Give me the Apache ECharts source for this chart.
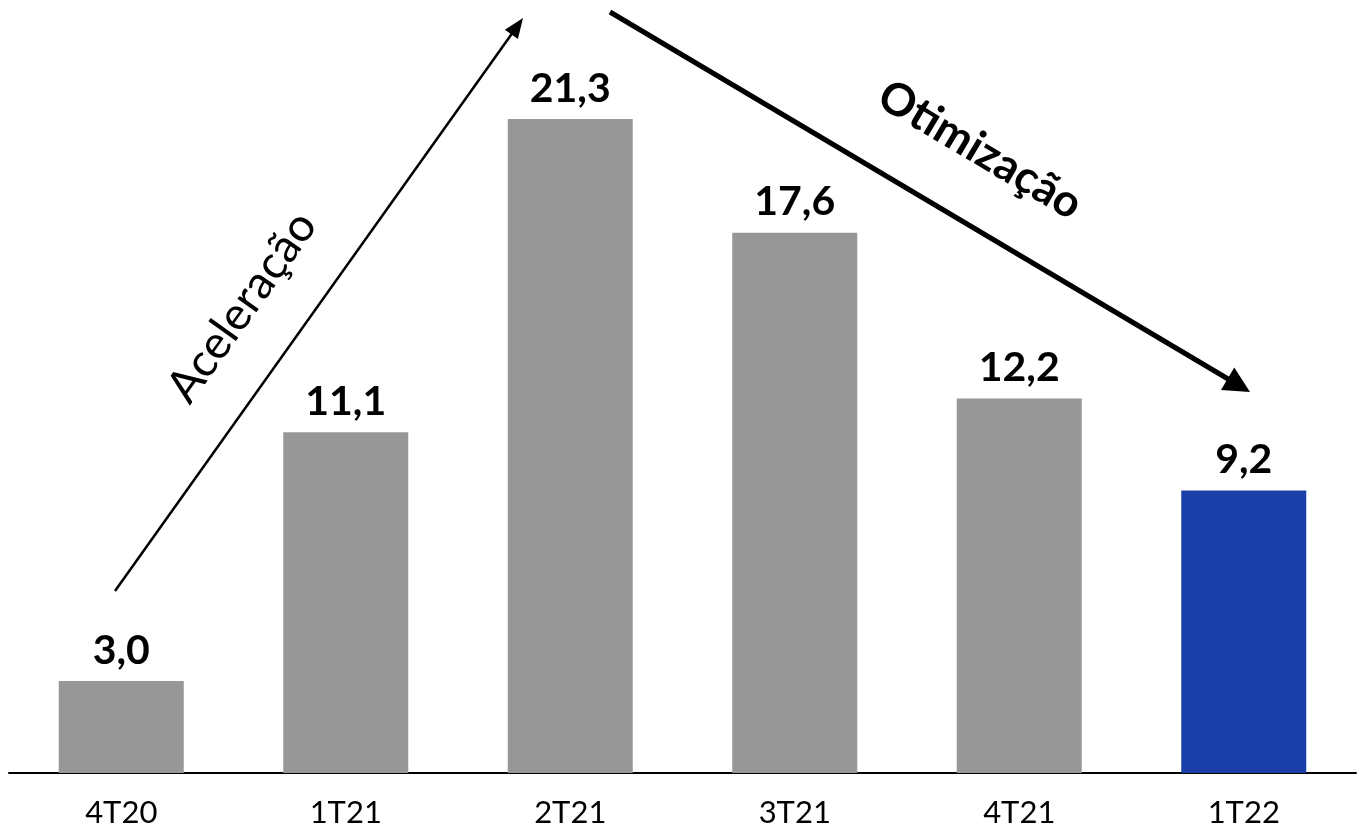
<!DOCTYPE html>
<html>
<head>
<meta charset="utf-8">
<script src="https://cdn.jsdelivr.net/npm/echarts@6/dist/echarts.min.js"></script>
<style>html,body{margin:0;padding:0;background:#fff}#c{width:1358px;height:825px}</style>
</head>
<body>
<div id="c"></div>
<script>
const categories = ['4T20', '1T21', '2T21', '3T21', '4T21', '1T22'];
const values = [3.0, 11.1, 21.3, 17.6, 12.2, 9.2];
const barColors = ['#979797', '#979797', '#979797', '#979797', '#979797', '#1B3FA8'];

function arrow(x1, y1, x2, y2, w, hl, hw) {
  const dx = x2 - x1, dy = y2 - y1, L = Math.hypot(dx, dy);
  const ux = dx / L, uy = dy / L, px = -uy, py = ux;
  const bx = x2 - ux * hl, by = y2 - uy * hl;
  return [
    { type: 'line', shape: { x1: x1, y1: y1, x2: bx + ux * 2, y2: by + uy * 2 }, style: { stroke: '#000', lineWidth: w } },
    { type: 'polygon', shape: { points: [[x2, y2], [bx + px * hw, by + py * hw], [bx - px * hw, by - py * hw]] }, style: { fill: '#000' } }
  ];
}

const chart = echarts.init(document.getElementById('c'));
chart.setOption({
  animation: false,
  grid: { left: 9, right: 2, top: 5.5, bottom: 52, containLabel: false, outerBoundsMode: 'none' },
  xAxis: {
    type: 'category', data: categories,
    axisLine: { lineStyle: { color: '#000', width: 2 } },
    axisTick: { show: false },
    axisLabel: { color: '#000', fontSize: 31, fontFamily: 'Lato', margin: 24 }
  },
  yAxis: { type: 'value', min: 0, max: 25, show: false, splitLine: { show: false } },
  series: [{
    type: 'bar', barWidth: 125,
    data: values.map((v, i) => ({ value: v, itemStyle: { color: barColors[i] } })),
    label: {
      show: true, position: 'top', distance: 10, color: '#000',
      fontSize: 41, fontWeight: 'bold', fontFamily: 'Lato',
      formatter: p => p.value.toFixed(1).replace('.', ',')
    }
  }],
  graphic: [
    ...arrow(115, 591, 523, 18, 2.5, 20, 8),
    ...arrow(610, 12, 1250, 392, 5, 26, 13),
    { type: 'text', x: 242, y: 307, rotation: 54.5 * Math.PI / 180, style: { text: 'Aceleração', fontSize: 46, fontFamily: 'Lato', fill: '#000', align: 'center', verticalAlign: 'middle' } },
    { type: 'text', x: 980, y: 150, rotation: -30.7 * Math.PI / 180, style: { text: 'Otimização', fontSize: 45, fontWeight: 'bold', fontFamily: 'Lato', fill: '#000', align: 'center', verticalAlign: 'middle' } }
  ]
});
</script>
</body>
</html>
